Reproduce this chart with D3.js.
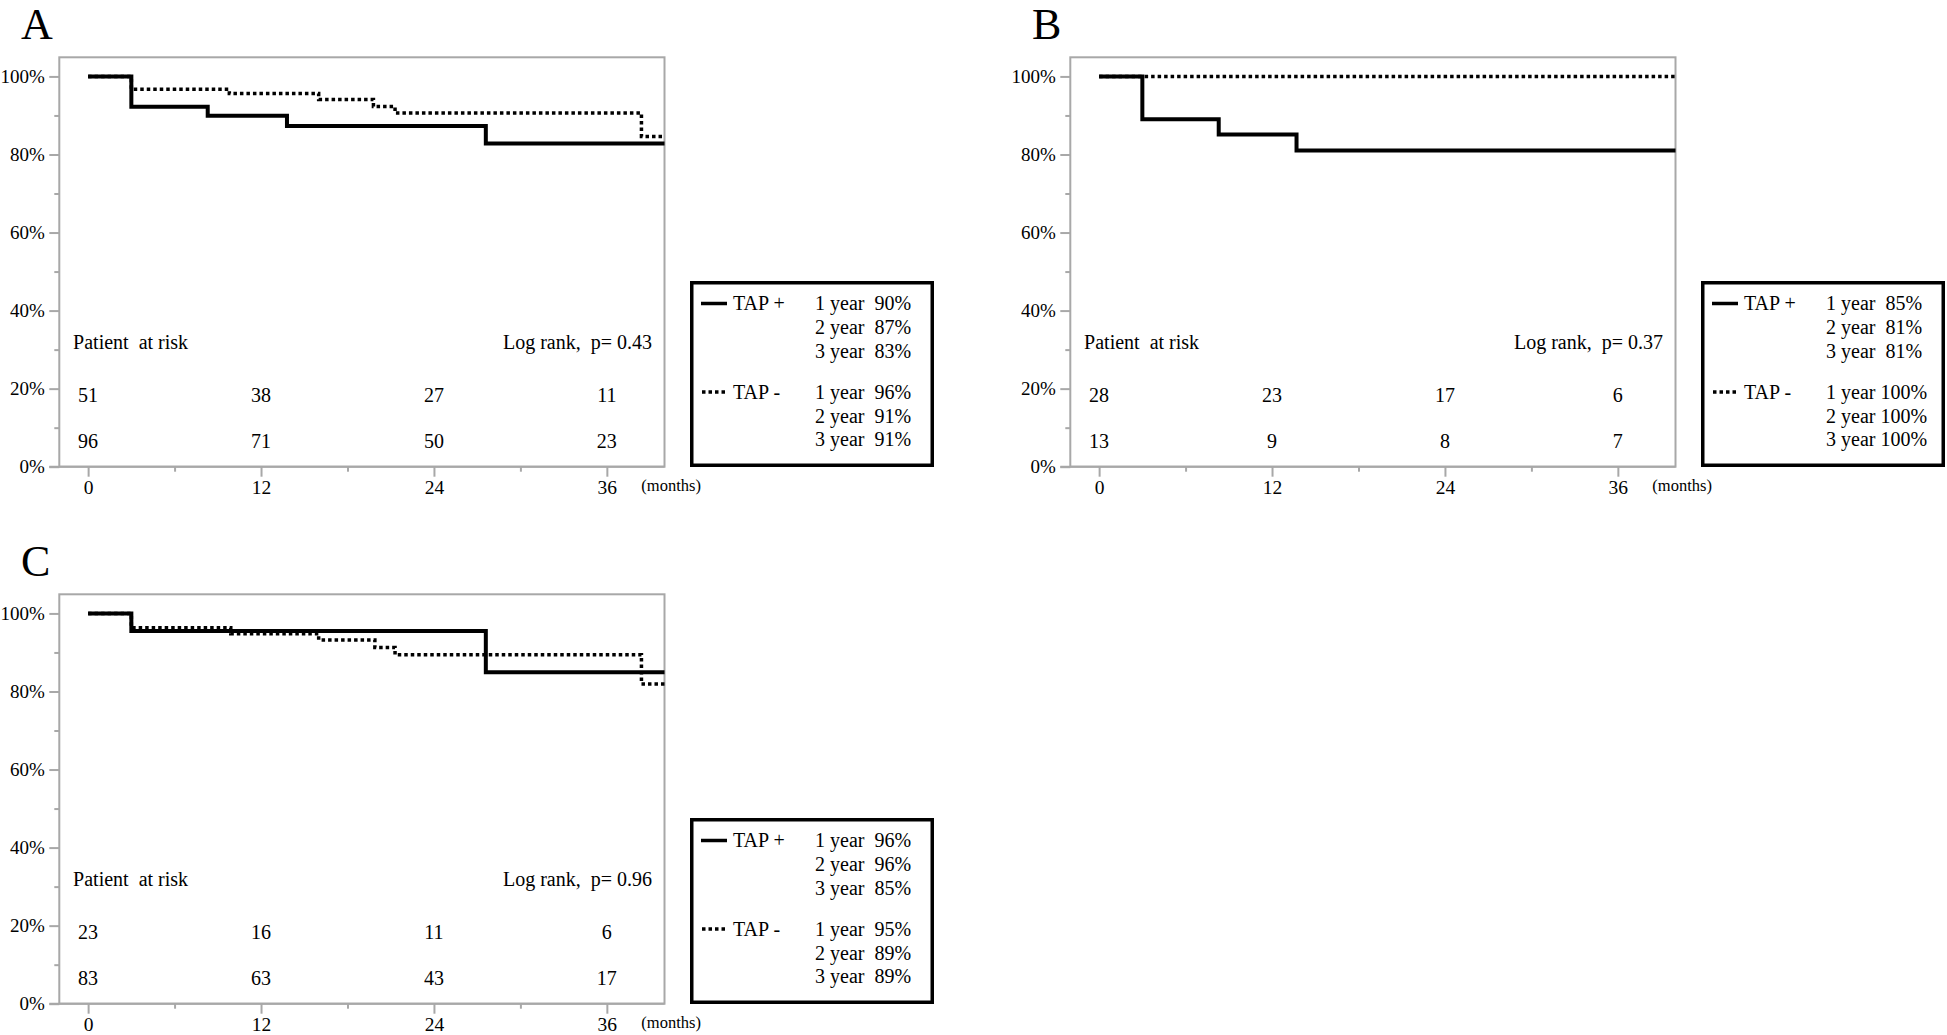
<!DOCTYPE html>
<html><head><meta charset="utf-8">
<script src="https://cdn.jsdelivr.net/npm/d3@7"></script>
<style>
html,body{margin:0;padding:0;background:#fff;}
svg{display:block;background:#fff;}
text{font-family:"Liberation Serif","Times New Roman",serif;fill:#000;white-space:pre;}
</style></head><body>
<svg id="chart" width="1947" height="1035"></svg>
<script>
// ---------------- DATA ----------------
const panelNames = ["A", "B", "C"];
const monthTicks = [0, 12, 24, 36];
const monthMinorTicks = [6, 18, 30];
const percentTicks = [0, 20, 40, 60, 80, 100];
const percentMinorTicks = [10, 30, 50, 70, 90];
const followUpEnd = 40;
const groupNames = ["TAP +", "TAP -"];
const yearLabels = ["1 year", "2 year", "3 year"];

// Kaplan-Meier step points (months, survival %)
const timesA_plus  = [0, 3.0, 8.3, 13.8, 27.6];
const survA_plus   = [100, 92.2, 89.9, 87.3, 82.8];
const timesA_minus = [0, 3.0, 9.8, 16.0, 19.8, 21.3, 38.4];
const survA_minus  = [100, 96.7, 95.6, 94.1, 92.3, 90.6, 84.6];

const timesB_plus  = [0, 3.0, 8.3, 13.7];
const survB_plus   = [100, 89.0, 85.1, 81.0];
const timesB_minus = [0];
const survB_minus  = [100];

const timesC_plus  = [0, 3.0, 27.6];
const survC_plus   = [100, 95.5, 84.9];
const timesC_minus = [0, 3.0, 9.9, 16.0, 19.9, 21.3, 38.4];
const survC_minus  = [100, 96.3, 94.8, 93.2, 91.3, 89.4, 81.9];

// Patients at risk at 0, 12, 24, 36 months
const riskA_plus  = [51, 38, 27, 11];
const riskA_minus = [96, 71, 50, 23];
const riskB_plus  = [28, 23, 17, 6];
const riskB_minus = [13, 9, 8, 7];
const riskC_plus  = [23, 16, 11, 6];
const riskC_minus = [83, 63, 43, 17];

// Survival rates shown in legends
const rateA_plus  = [90, 87, 83];
const rateA_minus = [96, 91, 91];
const rateB_plus  = [85, 81, 81];
const rateB_minus = [100, 100, 100];
const rateC_plus  = [96, 96, 85];
const rateC_minus = [95, 89, 89];

const logRankP = ["0.43", "0.37", "0.96"];

// ---------------- BUILD ----------------
const panels = [
  {name: panelNames[0], ox: 0, oy: 0,
   plus: {t: timesA_plus, s: survA_plus}, minus: {t: timesA_minus, s: survA_minus},
   riskPlus: riskA_plus, riskMinus: riskA_minus, ratePlus: rateA_plus, rateMinus: rateA_minus, p: logRankP[0]},
  {name: panelNames[1], ox: 1011, oy: 0,
   plus: {t: timesB_plus, s: survB_plus}, minus: {t: timesB_minus, s: survB_minus},
   riskPlus: riskB_plus, riskMinus: riskB_minus, ratePlus: rateB_plus, rateMinus: rateB_minus, p: logRankP[1]},
  {name: panelNames[2], ox: 0, oy: 537,
   plus: {t: timesC_plus, s: survC_plus}, minus: {t: timesC_minus, s: survC_minus},
   riskPlus: riskC_plus, riskMinus: riskC_minus, ratePlus: rateC_plus, rateMinus: rateC_minus, p: logRankP[2]}
];

const svg = d3.select("#chart");
const L = 59.3, R = 664.5, T = 57.3, B = 466.7;
const x = d3.scaleLinear().domain([-2, 40]).range([L, R]);
const y = d3.scaleLinear().domain([0, 104.9]).range([B, T]);
const gray = "#a8a8a8";
const FS = 20, FT = 19;
const dash = "3.5 3";

function toSteps(series) {
  const pts = series.t.map((t, i) => [t, series.s[i]]);
  pts.push([followUpEnd, series.s[series.s.length - 1]]);
  return pts;
}
const line = d3.line().x(d => x(d[0])).y(d => y(d[1])).curve(d3.curveStepAfter);

panels.forEach(P => {
  const g = svg.append("g").attr("transform", `translate(${P.ox},${P.oy})`);

  // title
  g.append("text").attr("x", 21).attr("y", 39).attr("font-size", 44).text(P.name);

  // frame
  g.append("rect").attr("x", L).attr("y", T).attr("width", R - L).attr("height", B - T)
    .attr("fill", "none").attr("stroke", gray).attr("stroke-width", 2);
  g.append("line").attr("x1", L - 10).attr("x2", R).attr("y1", B).attr("y2", B)
    .attr("stroke", gray).attr("stroke-width", 2);

  // y axis
  const ya = g.append("g").attr("transform", `translate(${L},0)`)
    .call(d3.axisLeft(y).tickValues(percentTicks).tickSize(10).tickPadding(4.5).tickFormat(d => d + "%"));
  const ym = g.append("g").attr("transform", `translate(${L},0)`)
    .call(d3.axisLeft(y).tickValues(percentMinorTicks).tickSize(5).tickFormat(""));
  // x axis
  const xa = g.append("g").attr("transform", `translate(0,${B})`)
    .call(d3.axisBottom(x).tickValues(monthTicks).tickSize(10).tickPadding(3));
  const xm = g.append("g").attr("transform", `translate(0,${B})`)
    .call(d3.axisBottom(x).tickValues(monthMinorTicks).tickSize(5).tickFormat(""));
  [ya, ym, xa, xm].forEach(a => {
    a.select(".domain").remove();
    a.selectAll(".tick line").attr("stroke", gray).attr("stroke-width", 2);
    a.selectAll(".tick text").attr("font-size", FT).attr("font-family", '"Liberation Serif", serif').attr("fill", "#000");
  });
  xa.selectAll(".tick text").attr("font-size", 19.5);

  g.append("text").attr("x", x(36) + 34.5).attr("y", 491).attr("font-size", 16.5).text("(months)");

  // curves
  g.append("path").attr("d", line(toSteps(P.minus))).attr("fill", "none")
    .attr("stroke", "#000").attr("stroke-width", 3.5).attr("stroke-dasharray", dash);
  g.append("path").attr("d", line(toSteps(P.plus))).attr("fill", "none")
    .attr("stroke", "#000").attr("stroke-width", 4);

  // annotations
  g.append("text").attr("x", x(0) - 15).attr("y", 349).attr("font-size", FS).text("Patient  at risk");
  g.append("text").attr("x", R - 12.5).attr("y", 349).attr("font-size", FS).attr("text-anchor", "end")
    .text("Log rank,  p= " + P.p);

  g.selectAll(".riskP").data(P.riskPlus).enter().append("text")
    .attr("x", (d, i) => x(monthTicks[i])).attr("y", 402).attr("font-size", FS)
    .attr("text-anchor", "middle").text(d => d);
  g.selectAll(".riskM").data(P.riskMinus).enter().append("text")
    .attr("x", (d, i) => x(monthTicks[i])).attr("y", 448).attr("font-size", FS)
    .attr("text-anchor", "middle").text(d => d);

  // legend
  const lg = g.append("g");
  lg.append("rect").attr("x", 691.75).attr("y", 282.75).attr("width", 240.5).attr("height", 182.5)
    .attr("fill", "#fff").attr("stroke", "#000").attr("stroke-width", 3.5);
  lg.append("line").attr("x1", 701).attr("x2", 727).attr("y1", 303.5).attr("y2", 303.5)
    .attr("stroke", "#000").attr("stroke-width", 3.5);
  lg.append("line").attr("x1", 702).attr("x2", 727).attr("y1", 392).attr("y2", 392)
    .attr("stroke", "#000").attr("stroke-width", 3.5).attr("stroke-dasharray", dash);
  lg.append("text").attr("x", 733).attr("y", 309.5).attr("font-size", FS).text(groupNames[0]);
  lg.append("text").attr("x", 733).attr("y", 399).attr("font-size", FS).text(groupNames[1]);
  const rowsPlus = [309.5, 334, 358.3];
  const rowsMinus = [399, 422.8, 446.3];
  const fmt = v => (v >= 100 ? " " : "  ") + v + "%";
  P.ratePlus.forEach((v, i) => {
    lg.append("text").attr("x", 815).attr("y", rowsPlus[i]).attr("font-size", FS).text(yearLabels[i] + fmt(v));
  });
  P.rateMinus.forEach((v, i) => {
    lg.append("text").attr("x", 815).attr("y", rowsMinus[i]).attr("font-size", FS).text(yearLabels[i] + fmt(v));
  });
});
</script></body></html>
